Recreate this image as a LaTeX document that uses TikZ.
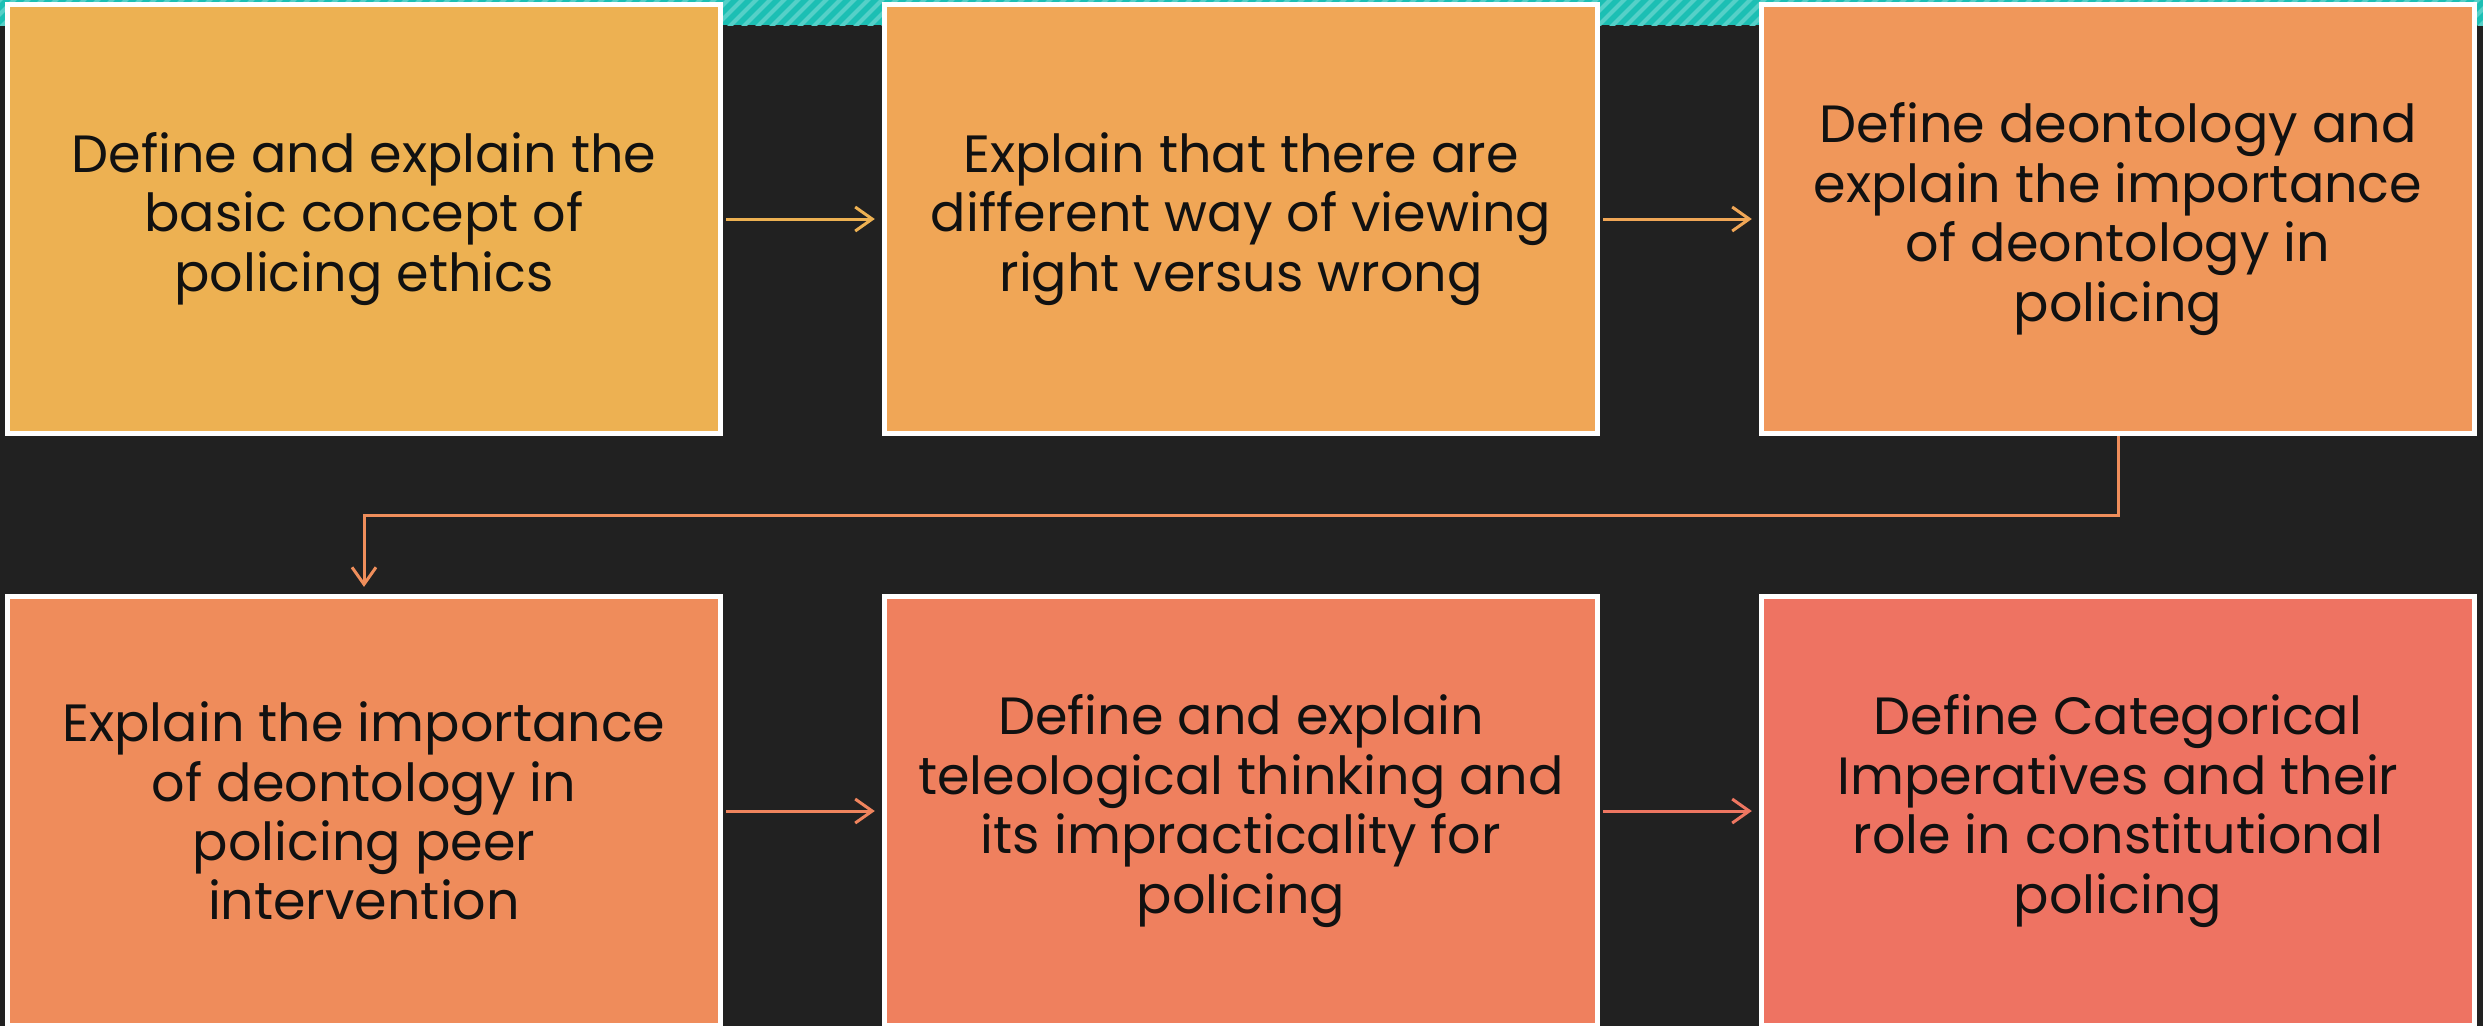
\documentclass[tikz,border=0pt]{standalone}
\usepackage{fontspec}
\setmainfont{Poppins}
\usetikzlibrary{arrows.meta}
\definecolor{bg}{HTML}{212121}
\definecolor{teal1}{HTML}{1CBFB4}
\definecolor{teal2}{HTML}{55D0C8}
\definecolor{c1}{HTML}{EDB152}
\definecolor{c2}{HTML}{F0A656}
\definecolor{c3}{HTML}{F0975A}
\definecolor{c4}{HTML}{EF8C5B}
\definecolor{c5}{HTML}{EF805E}
\definecolor{c6}{HTML}{EE7362}
\definecolor{txt}{HTML}{111111}
\tikzset{
  box/.style={rectangle, draw=white, line width=0.05cm, minimum width=7.13cm, minimum height=4.29cm,
    inner sep=0pt, align=center, text=txt, font=\fontsize{14.9}{16.9}\selectfont},
  arr/.style={line width=0.03cm, -{Straight Barb[length=0.17cm,width=0.24cm]}, shorten <=0.03cm, shorten >=0.07cm}
}
\begin{document}
\begin{tikzpicture}[x=0.01cm,y=-0.01cm]
\fill[bg] (0,0) rectangle (2483,1026);
\useasboundingbox (0,0) rectangle (2483,1026);
\begin{scope}
  \clip (0,0) rectangle (2483,25);
  \fill[teal1] (0,0) rectangle (2483,25);
  \foreach \i in {0,14,...,2520}{
    \draw[teal2, line width=0.04cm] (\i-30,30) -- (\i+5,-5);
  }
\end{scope}
\node[box, fill=c1] (b1) at (364,219) {Define and explain the\\basic concept of\\policing ethics};
\node[box, fill=c2] (b2) at (1241,219) {Explain that there are\\different way of viewing\\right versus wrong};
\node[box, fill=c3] (b3) at (2118,219) {Define deontology and\\explain the importance\\of deontology in\\policing};
\node[box, fill=c4] (b4) at (364,811) {Explain the importance\\of deontology in\\policing peer\\intervention};
\node[box, fill=c5] (b5) at (1241,811) {Define and explain\\teleological thinking and\\its impracticality for\\policing};
\node[box, fill=c6] (b6) at (2118,811) {Define Categorical\\Imperatives and their\\role in constitutional\\policing};
\coordinate (mid) at (1241,515);
\draw[arr, draw=c1] (b1) -- (b2);
\draw[arr, draw=c2] (b2) -- (b3);
\draw[arr, draw=c4!85!c3, shorten <=0pt] (b3.south) |- (mid) -| (b4.north);
\draw[arr, draw=c5!70!c4] (b4) -- (b5);
\draw[arr, draw=c6!80!c5] (b5) -- (b6);
\end{tikzpicture}
\end{document}
